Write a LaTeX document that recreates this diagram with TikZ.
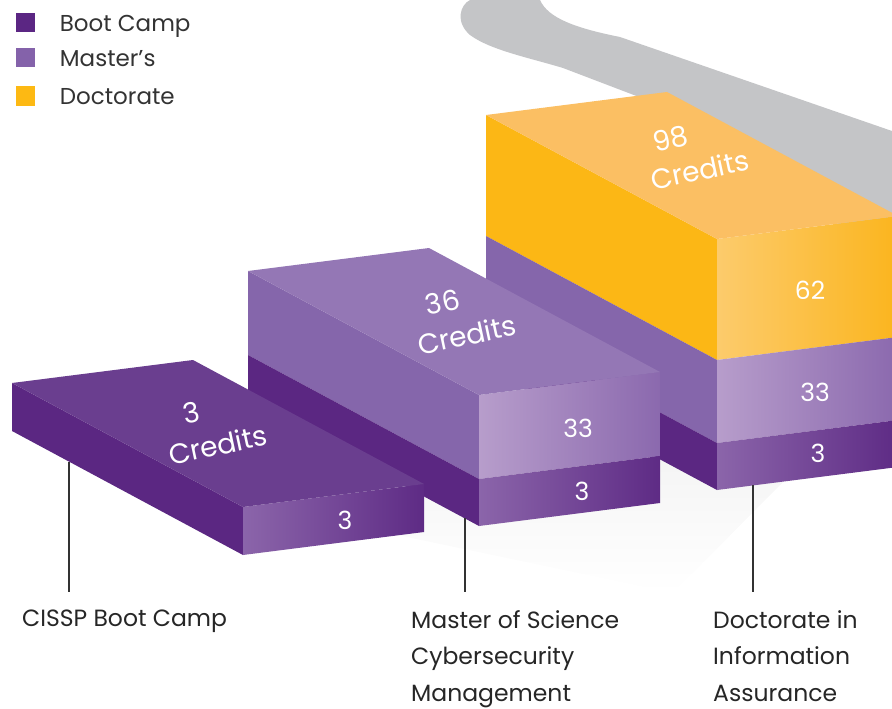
\documentclass[tikz,border=0pt]{standalone}
\usepackage{fontspec}
\setmainfont{Poppins}
\usetikzlibrary{positioning}
\definecolor{bootc}{HTML}{5B2683}
\definecolor{mastc}{HTML}{8462AA}
\definecolor{docc}{HTML}{FDB913}
\definecolor{boottop}{HTML}{6A3E8F}
\definecolor{bootside}{HTML}{5B2782}
\definecolor{bootfl}{HTML}{8B65AA}
\definecolor{bootfr}{HTML}{5E2B85}
\definecolor{masttop}{HTML}{9477B5}
\definecolor{mastside}{HTML}{8566AB}
\definecolor{mastfl}{HTML}{B79DCB}
\definecolor{mastfr}{HTML}{8B69AE}
\definecolor{doctop}{HTML}{FBBF63}
\definecolor{docside}{HTML}{FCB715}
\definecolor{docfl}{HTML}{FCCB6C}
\definecolor{docfr}{HTML}{FBB51E}
\definecolor{shadowc}{HTML}{C4C5C7}
\begin{document}
\begin{tikzpicture}[x=1pt,y=-1pt,
    legsq/.style={minimum size=19pt, inner sep=0pt},
    legtxt/.style={font=\fontsize{23}{25}\selectfont, text=black!80, inner sep=0pt, text height=16pt, text depth=4pt, yshift=-2.5pt},
    toptxt/.style={font=\fontsize{28}{37}\selectfont, text=white, rotate=12, inner sep=0pt, align=center},
    numtxt/.style={font=\fontsize{25}{27}\selectfont, text=white, inner sep=0pt},
    progtxt/.style={font=\fontsize{23.5}{36.5}\selectfont, text=black!85, align=left, anchor=north west, inner sep=0pt},
    leader/.style={black!80, line width=1.4pt}]
    \useasboundingbox (0,0) rectangle (892,709);
    \clip (0,0) rectangle (892,709);
    % shadows
    \fill[shadowc] (470,0) -- (540,0) .. controls (548,18) and (575,28) .. (620,37) -- (892,131) -- (892,260) -- (660,105) -- (563,68) .. controls (530,58) and (490,50) .. (470,35) .. controls (455,22) and (460,5) .. (470,0) -- cycle;
    \shade[top color=black!9, bottom color=white] (350,525) -- (673,593) -- (892,372) -- (892,300) -- cycle;
    % doctorate block
    \fill[docside] (486,115) -- (717,239) -- (717,360) -- (486,236) -- cycle;
    \fill[mastside] (486,236) -- (717,360) -- (717,443) -- (486,319) -- cycle;
    \fill[bootside] (486,319) -- (717,443) -- (717,490) -- (486,366) -- cycle;
    \shade[left color=docfl, right color=docfr] (717,239) -- (898,216) -- (898,337) -- (717,360) -- cycle;
    \shade[left color=mastfl, right color=mastfr] (717,360) -- (898,337) -- (898,420) -- (717,443) -- cycle;
    \shade[left color=bootfl, right color=bootfr] (717,443) -- (898,420) -- (898,467) -- (717,490) -- cycle;
    \fill[doctop] (486,115) -- (667,92) -- (898,216) -- (717,239) -- cycle;
    % master block
    \fill[mastside] (248,271) -- (479,395) -- (479,479) -- (248,355) -- cycle;
    \fill[bootside] (248,355) -- (479,479) -- (479,526) -- (248,402) -- cycle;
    \shade[left color=mastfl, right color=mastfr] (479,395) -- (660,372) -- (660,456) -- (479,479) -- cycle;
    \shade[left color=bootfl, right color=bootfr] (479,479) -- (660,456) -- (660,503) -- (479,526) -- cycle;
    \fill[masttop] (248,271) -- (429,248) -- (660,372) -- (479,395) -- cycle;
    % boot camp block
    \fill[bootside] (12,383) -- (243,507) -- (243,555) -- (12,431) -- cycle;
    \shade[left color=bootfl, right color=bootfr] (243,507) -- (424,484) -- (424,532) -- (243,555) -- cycle;
    \fill[boottop] (12,383) -- (193,360) -- (424,484) -- (243,507) -- cycle;
    % credits
    \node[toptxt] (bccred) at (214,427) {3\hspace*{38pt}\\Credits};
    \node[toptxt] (mscred) at (463,317) {36\hspace*{34pt}\\Credits};
    \node[toptxt] (dccred) at (696,152) {98\hspace*{44pt}\\Credits};
    \node[numtxt] (bcboot) at (345,520) {3};
    \node[numtxt] (msmast) at (578,428) {33};
    \node[numtxt] (msboot) at (582,491) {3};
    \node[numtxt] (dcdoc) at (810,290) {62};
    \node[numtxt] (dcmast) at (815,392) {33};
    \node[numtxt] (dcboot) at (818,453) {3};
    % legend
    \node[legsq, fill=bootc] (lgboot) at (25,23) {};
    \node[legsq, fill=mastc] (lgmast) at (25,58) {};
    \node[legsq, fill=docc] (lgdoc) at (25,96) {};
    \node[legtxt, right=25pt of lgboot] (lgboottxt) {Boot Camp};
    \node[legtxt, right=25pt of lgmast] (lgmasttxt) {Master’s};
    \node[legtxt, right=25pt of lgdoc] (lgdoctxt) {Doctorate};
    % programmes
    \node[progtxt] (bclabel) at (22,610) {CISSP Boot Camp};
    \node[progtxt] (mslabel) at (411,610) {Master of Science\\Cybersecurity\\Management};
    \node[progtxt] (dclabel) at (713,610) {Doctorate in\\Information\\Assurance};
    \coordinate (bctop) at (69,462);
    \coordinate (bcend) at (69,592);
    \coordinate (mstop) at (465,518);
    \coordinate (msend) at (465,592);
    \coordinate (dctop) at (753,485);
    \coordinate (dcend) at (753,592);
    \draw[leader] (bctop) -- (bcend);
    \draw[leader] (mstop) -- (msend);
    \draw[leader] (dctop) -- (dcend);
\end{tikzpicture}
\end{document}
